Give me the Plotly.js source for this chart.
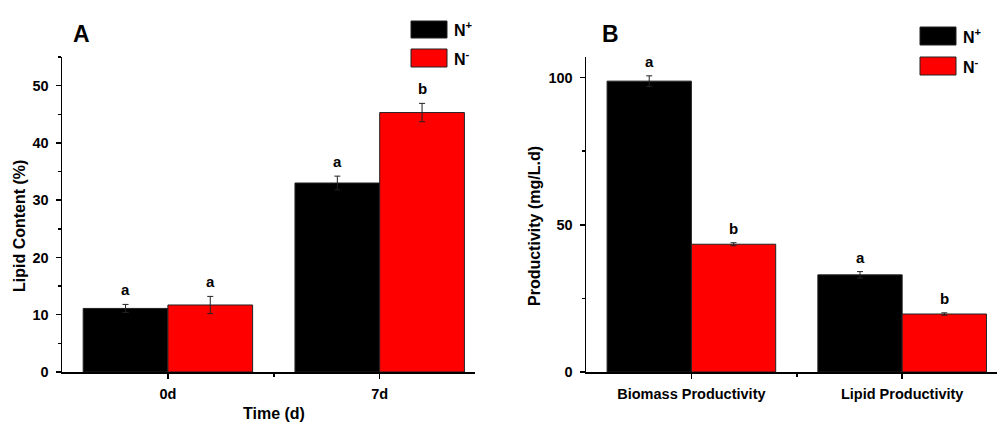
<!DOCTYPE html>
<html>
<head>
<meta charset="utf-8">
<script src="https://cdn.plot.ly/plotly-3.0.1.min.js"></script>
<style>html,body{margin:0;padding:0;background:#fff;}#chart{width:998px;height:423px;}</style>
</head>
<body>
<div id="chart"></div>
<script>
// ---- Data ----
const seriesNames = ['N<sup>+</sup>', 'N<sup>-</sup>'];
const seriesColors = ['#000000', '#ff0000'];

const categoriesA = ['0d', '7d'];
const nPlusA = [11.1, 33.0];
const nPlusAErr = [0.7, 1.2];
const nMinusA = [11.7, 45.3];
const nMinusAErr = [1.5, 1.6];
const lettersPlusA = ['a', 'a'];
const lettersMinusA = ['a', 'b'];

const categoriesB = ['Biomass Productivity', 'Lipid Productivity'];
const nPlusB = [98.8, 33.0];
const nPlusBErr = [1.8, 1.1];
const nMinusB = [43.4, 19.7];
const nMinusBErr = [0.5, 0.4];
const lettersPlusB = ['a', 'a'];
const lettersMinusB = ['b', 'b'];

// ---- Build ----
const FONT = 'Liberation Sans, Arial, sans-serif';
const idx = arr => arr.map((_, i) => i);

function barTrace(cats, vals, errs, color, name, xa, ya) {
  return {
    type: 'bar', x: idx(cats), y: vals, name: name,
    xaxis: xa, yaxis: ya,
    marker: {color: color, line: {color: '#222', width: 1}},
    error_y: {type: 'data', array: errs, visible: true, color: '#222', thickness: 1, width: 3},
    hoverinfo: 'y'
  };
}

const data = [
  barTrace(categoriesA, nPlusA, nPlusAErr, seriesColors[0], seriesNames[0], 'x', 'y'),
  barTrace(categoriesA, nMinusA, nMinusAErr, seriesColors[1], seriesNames[1], 'x', 'y'),
  barTrace(categoriesB, nPlusB, nPlusBErr, seriesColors[0], seriesNames[0], 'x2', 'y2'),
  barTrace(categoriesB, nMinusB, nMinusBErr, seriesColors[1], seriesNames[1], 'x2', 'y2')
];

const annotations = [];
function letterAnns(vals, errs, letters, off, xref, yref) {
  vals.forEach((v, i) => {
    annotations.push({
      x: i + off, y: v + errs[i], xref: xref, yref: yref,
      text: letters[i], showarrow: false, yanchor: 'bottom', yshift: 4,
      font: {family: FONT, size: 15, color: '#000', weight: 'bold'}
    });
  });
}
letterAnns(nPlusA, nPlusAErr, lettersPlusA, -0.2, 'x', 'y');
letterAnns(nMinusA, nMinusAErr, lettersMinusA, 0.2, 'x', 'y');
letterAnns(nPlusB, nPlusBErr, lettersPlusB, -0.2, 'x2', 'y2');
letterAnns(nMinusB, nMinusBErr, lettersMinusB, 0.2, 'x2', 'y2');

function paperText(text, x, y, size, opts) {
  annotations.push(Object.assign({
    text: text, x: x, y: y, xref: 'paper', yref: 'paper', showarrow: false,
    xanchor: 'center', yanchor: 'middle',
    font: {family: FONT, size: size, color: '#000', weight: 'bold'}
  }, opts || {}));
}
// panel letters
paperText('A', 81 / 998, 1 - 34 / 423, 23);
paperText('B', 610 / 998, 1 - 34 / 423, 23);
// axis titles
paperText('Lipid Content (%)', 19 / 998, 1 - 226 / 423, 16, {textangle: -90});
paperText('Productivity (mg/L.d)', 534 / 998, 1 - 226 / 423, 16, {textangle: -90});
paperText('Time (d)', 273.5 / 998, 1 - 413 / 423, 16);
// legend texts
paperText(seriesNames[0], 452 / 998, 1 - 29 / 423, 16, {xanchor: 'left'});
paperText(seriesNames[1], 452 / 998, 1 - 58 / 423, 16, {xanchor: 'left'});
paperText(seriesNames[0], 961 / 998, 1 - 36 / 423, 16, {xanchor: 'left'});
paperText(seriesNames[1], 961 / 998, 1 - 66 / 423, 16, {xanchor: 'left'});

function box(x0, y0, x1, y1, color) {
  return {type: 'rect', xref: 'paper', yref: 'paper',
    x0: x0 / 998, x1: x1 / 998, y0: 1 - y0 / 423, y1: 1 - y1 / 423,
    fillcolor: color, line: {color: '#222', width: 1}};
}
const shapes = [
  box(411, 21, 447, 38, seriesColors[0]),
  box(411, 49, 447, 67, seriesColors[1]),
  box(920, 27, 956, 45, seriesColors[0]),
  box(920, 57, 956, 75, seriesColors[1])
];

const tickFont = {family: FONT, size: 14.5, color: '#000', weight: 'bold'};
function xAxis(domain, cats) {
  return {
    domain: domain, range: [-0.5, 1.45], tickmode: 'array', tickvals: idx(cats), ticktext: cats,
    ticks: 'outside', ticklen: 5, tickwidth: 1.5, tickcolor: '#000',
    showline: true, linecolor: '#000', linewidth: 1.5, showgrid: false, zeroline: false,
    tickfont: tickFont, ticklabelstandoff: 3, fixedrange: true,
    minor: {tickmode: 'array', tickvals: [0.5], ticks: 'outside', ticklen: 3, tickwidth: 1.5, tickcolor: '#000', showgrid: false}
  };
}
function yAxis(anchor, range, dtick) {
  return {
    anchor: anchor, domain: [51 / 423, 366 / 423], range: range, dtick: dtick, tick0: 0,
    ticks: 'outside', ticklen: 5, tickwidth: 1.5, tickcolor: '#000',
    showline: true, linecolor: '#000', linewidth: 1.5, showgrid: false, zeroline: false,
    tickfont: tickFont, ticklabelstandoff: 4, fixedrange: true,
    minor: {dtick: dtick / 2, tick0: 0, ticks: 'outside', ticklen: 3, tickwidth: 1.5, tickcolor: '#000', showgrid: false}
  };
}

const layout = {
  width: 998, height: 423,
  margin: {l: 0, r: 0, t: 0, b: 0},
  paper_bgcolor: '#fff', plot_bgcolor: '#fff',
  font: {family: FONT, size: 14, color: '#000', weight: 'bold'},
  showlegend: false,
  barmode: 'group', bargap: 0.2, bargroupgap: 0,
  xaxis: Object.assign(xAxis([62 / 998, 475 / 998], categoriesA), {anchor: 'y'}),
  yaxis: yAxis('x', [0, 55], 10),
  xaxis2: Object.assign(xAxis([586 / 998, 0.999], categoriesB), {anchor: 'y2'}),
  yaxis2: yAxis('x2', [0, 107], 50),
  annotations: annotations,
  shapes: shapes
};

Plotly.newPlot('chart', data, layout, {displayModeBar: false, staticPlot: true});
</script>
</body>
</html>
